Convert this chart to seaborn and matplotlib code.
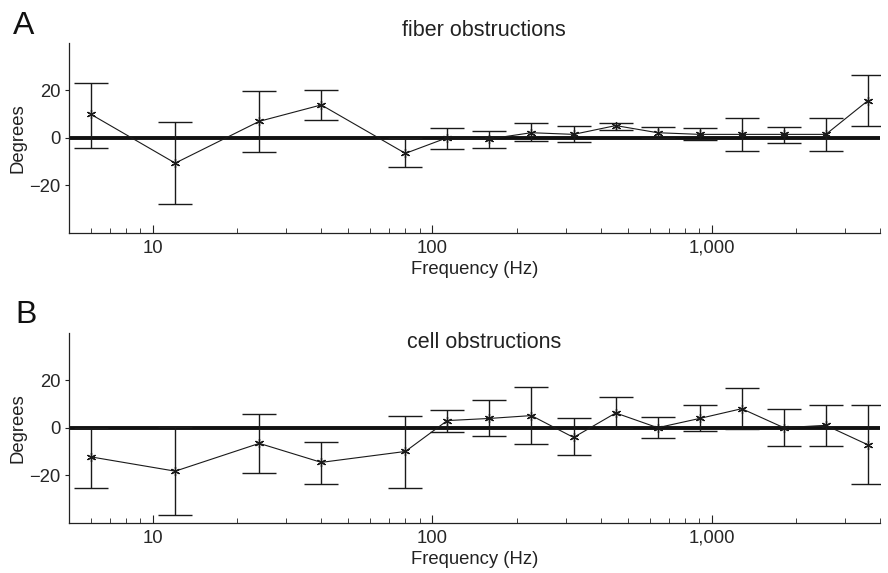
import numpy as np
import pandas as pd
import matplotlib
matplotlib.use("Agg")
import matplotlib.pyplot as plt
import matplotlib.ticker as mticker
import seaborn as sns

# ---- data ----
freqs = [6, 12, 24, 40, 80, 113, 160, 226, 320, 453, 640, 905, 1280, 1810, 2560, 3620]

fiber_mean = [9.8, -10.7, 6.9, 13.8, -6.6, 0.0, -0.5, 2.1, 1.4, 5.1, 2.1, 1.4, 1.4, 1.4, 1.4, 15.6]
fiber_upper = [23.1, 6.8, 19.7, 20.1, 0.0, 3.9, 2.7, 6.0, 4.9, 6.2, 4.3, 3.9, 8.4, 4.3, 8.4, 26.6]
fiber_lower = [-4.2, -28.1, -6.0, 7.5, -12.2, -4.8, -4.2, -1.3, -1.8, 3.2, 0.0, -0.8, -5.5, -2.1, -5.5, 5.1]

cell_mean = [-12.3, -18.3, -6.6, -14.6, -10.0, 3.0, 3.9, 5.1, -4.1, 6.2, 0.0, 3.9, 8.0, 0.0, 1.0, -7.2]
cell_upper = [0.0, 0.4, 5.6, -6.1, 4.9, 7.5, 11.5, 17.3, 3.9, 13.1, 4.4, 9.7, 16.6, 8.0, 9.7, 9.7]
cell_lower = [-25.2, -36.9, -18.9, -23.9, -25.2, -1.7, -3.5, -7.0, -11.7, 0.0, -4.2, -1.3, -0.6, -7.7, -7.7, -23.5]

titles = ["fiber obstructions", "cell obstructions"]
panel_labels = ["A", "B"]
xtick_vals = [10, 100, 1000]
xtick_labels = ["10", "100", "1,000"]
ytick_vals = [-20, 0, 20]

sns.set_theme(style="ticks")
plt.rcParams["font.family"] = ["Liberation Sans", "DejaVu Sans"]

W, H = 888, 573
fig = plt.figure(figsize=(W / 100, H / 100), dpi=100)

def px_axes(left, top, right, bottom):
    return fig.add_axes([left / W, 1 - bottom / H, (right - left) / W, (bottom - top) / H])

axA = px_axes(69, 42.7, 880, 232.7)
axB = px_axes(69, 332.7, 880, 522.7)

series = [(fiber_mean, fiber_upper, fiber_lower), (cell_mean, cell_upper, cell_lower)]
title_y = [1.035, 0.918]
label_pos = [(13, 34.3), (15, 323.3)]

for i, ax in enumerate([axA, axB]):
    mean, up, lo = series[i]
    mean = np.array(mean); up = np.array(up); lo = np.array(lo)
    ax.set_xscale("log")
    ax.axhline(0, color="#111111", lw=2.8, zorder=1)
    ax.errorbar(freqs, mean, yerr=[mean - lo, up - mean], fmt="none",
                ecolor="#1a1a1a", elinewidth=1.0, capsize=12.5, capthick=1.0, zorder=2)
    df = pd.DataFrame({"f": freqs, "v": mean})
    sns.lineplot(data=df, x="f", y="v", ax=ax, color="#1a1a1a", lw=0.8,
                 marker=(6, 2, 0), markersize=6.5, markeredgewidth=0.9,
                 markeredgecolor="#1a1a1a", zorder=3)
    ax.set_xlim(5, 4000)
    ax.set_ylim(-40, 40)
    ax.set_yticks(ytick_vals)
    ax.set_yticklabels([str(v).replace("-", "\u2212") for v in ytick_vals])
    ax.set_xticks(xtick_vals)
    ax.set_xticklabels(xtick_labels)
    ax.xaxis.set_minor_locator(mticker.LogLocator(base=10, subs=np.arange(2, 10)))
    ax.xaxis.set_minor_formatter(mticker.NullFormatter())
    ax.tick_params(axis="x", which="major", direction="in", length=6, width=0.8,
                   labelsize=13.3, pad=5, color="#222")
    ax.tick_params(axis="x", which="minor", direction="in", length=3.5, width=0.6, color="#222")
    ax.tick_params(axis="y", which="major", direction="out", length=3, width=0.8,
                   labelsize=13.3, pad=3, color="#222")
    for s in ["top", "right"]:
        ax.spines[s].set_visible(False)
    for s in ["left", "bottom"]:
        ax.spines[s].set_linewidth(0.9)
        ax.spines[s].set_color("#222")
    ax.set_xlabel("Frequency (Hz)", fontsize=13.3, labelpad=3, color="#222")
    ax.set_ylabel("Degrees", fontsize=13.3, color="#222")
    ax.yaxis.set_label_coords(-0.052, 0.5)
    ax.text(0.512, title_y[i], titles[i], transform=ax.transAxes, ha="center",
            va="baseline", fontsize=15.5, color="#222")
    lx, ly = label_pos[i]
    fig.text(lx / W, 1 - ly / H, panel_labels[i], fontsize=23, ha="left",
             va="baseline", color="#111")
    ax.set_facecolor("white")

fig.savefig("out.png", dpi=100, facecolor="white")
